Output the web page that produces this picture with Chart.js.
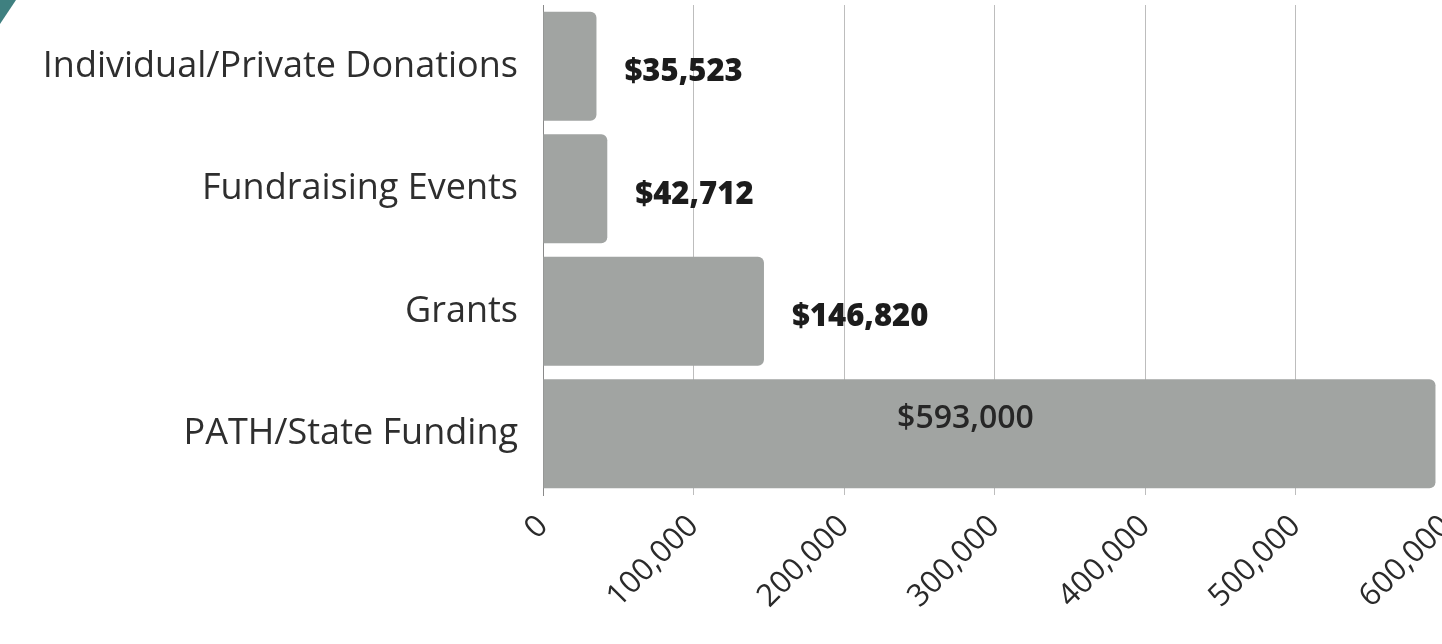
<!DOCTYPE html>
<html>
<head>
<meta charset="utf-8">
<script src="https://cdn.jsdelivr.net/npm/chart.js@4/dist/chart.umd.min.js"></script>
<style>
  html, body { margin: 0; padding: 0; background: #fff; overflow: hidden; }
  .corner { position: absolute; left: 0; top: 0; width: 16px; height: 24px; background: #3f8080; clip-path: polygon(0 0, 100% 0, 0 100%); }
  canvas { display: block; }
</style>
</head>
<body>
<div class="corner"></div>
<canvas id="chart" width="1470" height="644"></canvas>
<script>
// funding sources
const categories = ["Individual/Private Donations", "Fundraising Events", "Grants", "PATH/State Funding"]
const amounts = [35523, 42712, 146820, 593000]
const valueLabels = ["$35,523", "$42,712", "$146,820", "$593,000"]
const axisMax = 600000
const axisStep = 100000

const barLabels = {
  id: "barLabels",
  afterDatasetsDraw(chart) {
    const ctx = chart.ctx
    const meta = chart.getDatasetMeta(0)
    ctx.save()
    ctx.textBaseline = "middle"
    meta.data.forEach((bar, i) => {
      if (amounts[i] > axisMax / 2) {
        // big bar: label sits inside
        ctx.font = "600 32px 'Open Sans'"
        ctx.fillStyle = "#262626"
        ctx.textAlign = "center"
        ctx.fillText(valueLabels[i], (bar.base + bar.x) / 2 - 24, bar.y - 15)
      } else {
        ctx.font = "800 31px 'Open Sans'"
        ctx.fillStyle = "#1c1c1c"
        ctx.textAlign = "left"
        ctx.fillText(valueLabels[i], bar.x + 28, bar.y + 6)
      }
    })
    ctx.restore()
  }
}

new Chart(document.getElementById("chart"), {
  type: "bar",
  data: {
    labels: categories,
    datasets: [{
      data: amounts,
      backgroundColor: "#a1a4a2",
      borderRadius: 6,
      borderSkipped: "start",
      categoryPercentage: 1,
      barPercentage: 0.89
    }]
  },
  options: {
    indexAxis: "y",
    responsive: false,
    animation: false,
    layout: { padding: { top: 5, right: 24, bottom: 0, left: 0 } },
    plugins: { legend: { display: false }, tooltip: { enabled: false } },
    scales: {
      x: {
        min: 0,
        max: axisMax,
        ticks: {
          stepSize: axisStep,
          maxRotation: 45,
          minRotation: 45,
          padding: 13,
          color: "#2a2a2a",
          font: { family: "'Open Sans'", size: 31 }
        },
        grid: { color: "#bdbdbd", lineWidth: 1, drawTicks: false },
        border: { display: false },
        afterFit: scale => {
          scale.height = 149
          scale.paddingLeft = 0
          scale.paddingRight = 0
        }
      },
      y: {
        ticks: {
          padding: 17,
          color: "#2e2e2e",
          font: { family: "'Open Sans'", size: 36 }
        },
        grid: { display: false },
        border: { display: true, color: "#8a8a8a", width: 1 },
        afterFit: scale => {
          scale.width = 543
          scale.paddingTop = 0
          scale.paddingBottom = 0
        }
      }
    }
  },
  plugins: [barLabels]
})
</script>
</body>
</html>
